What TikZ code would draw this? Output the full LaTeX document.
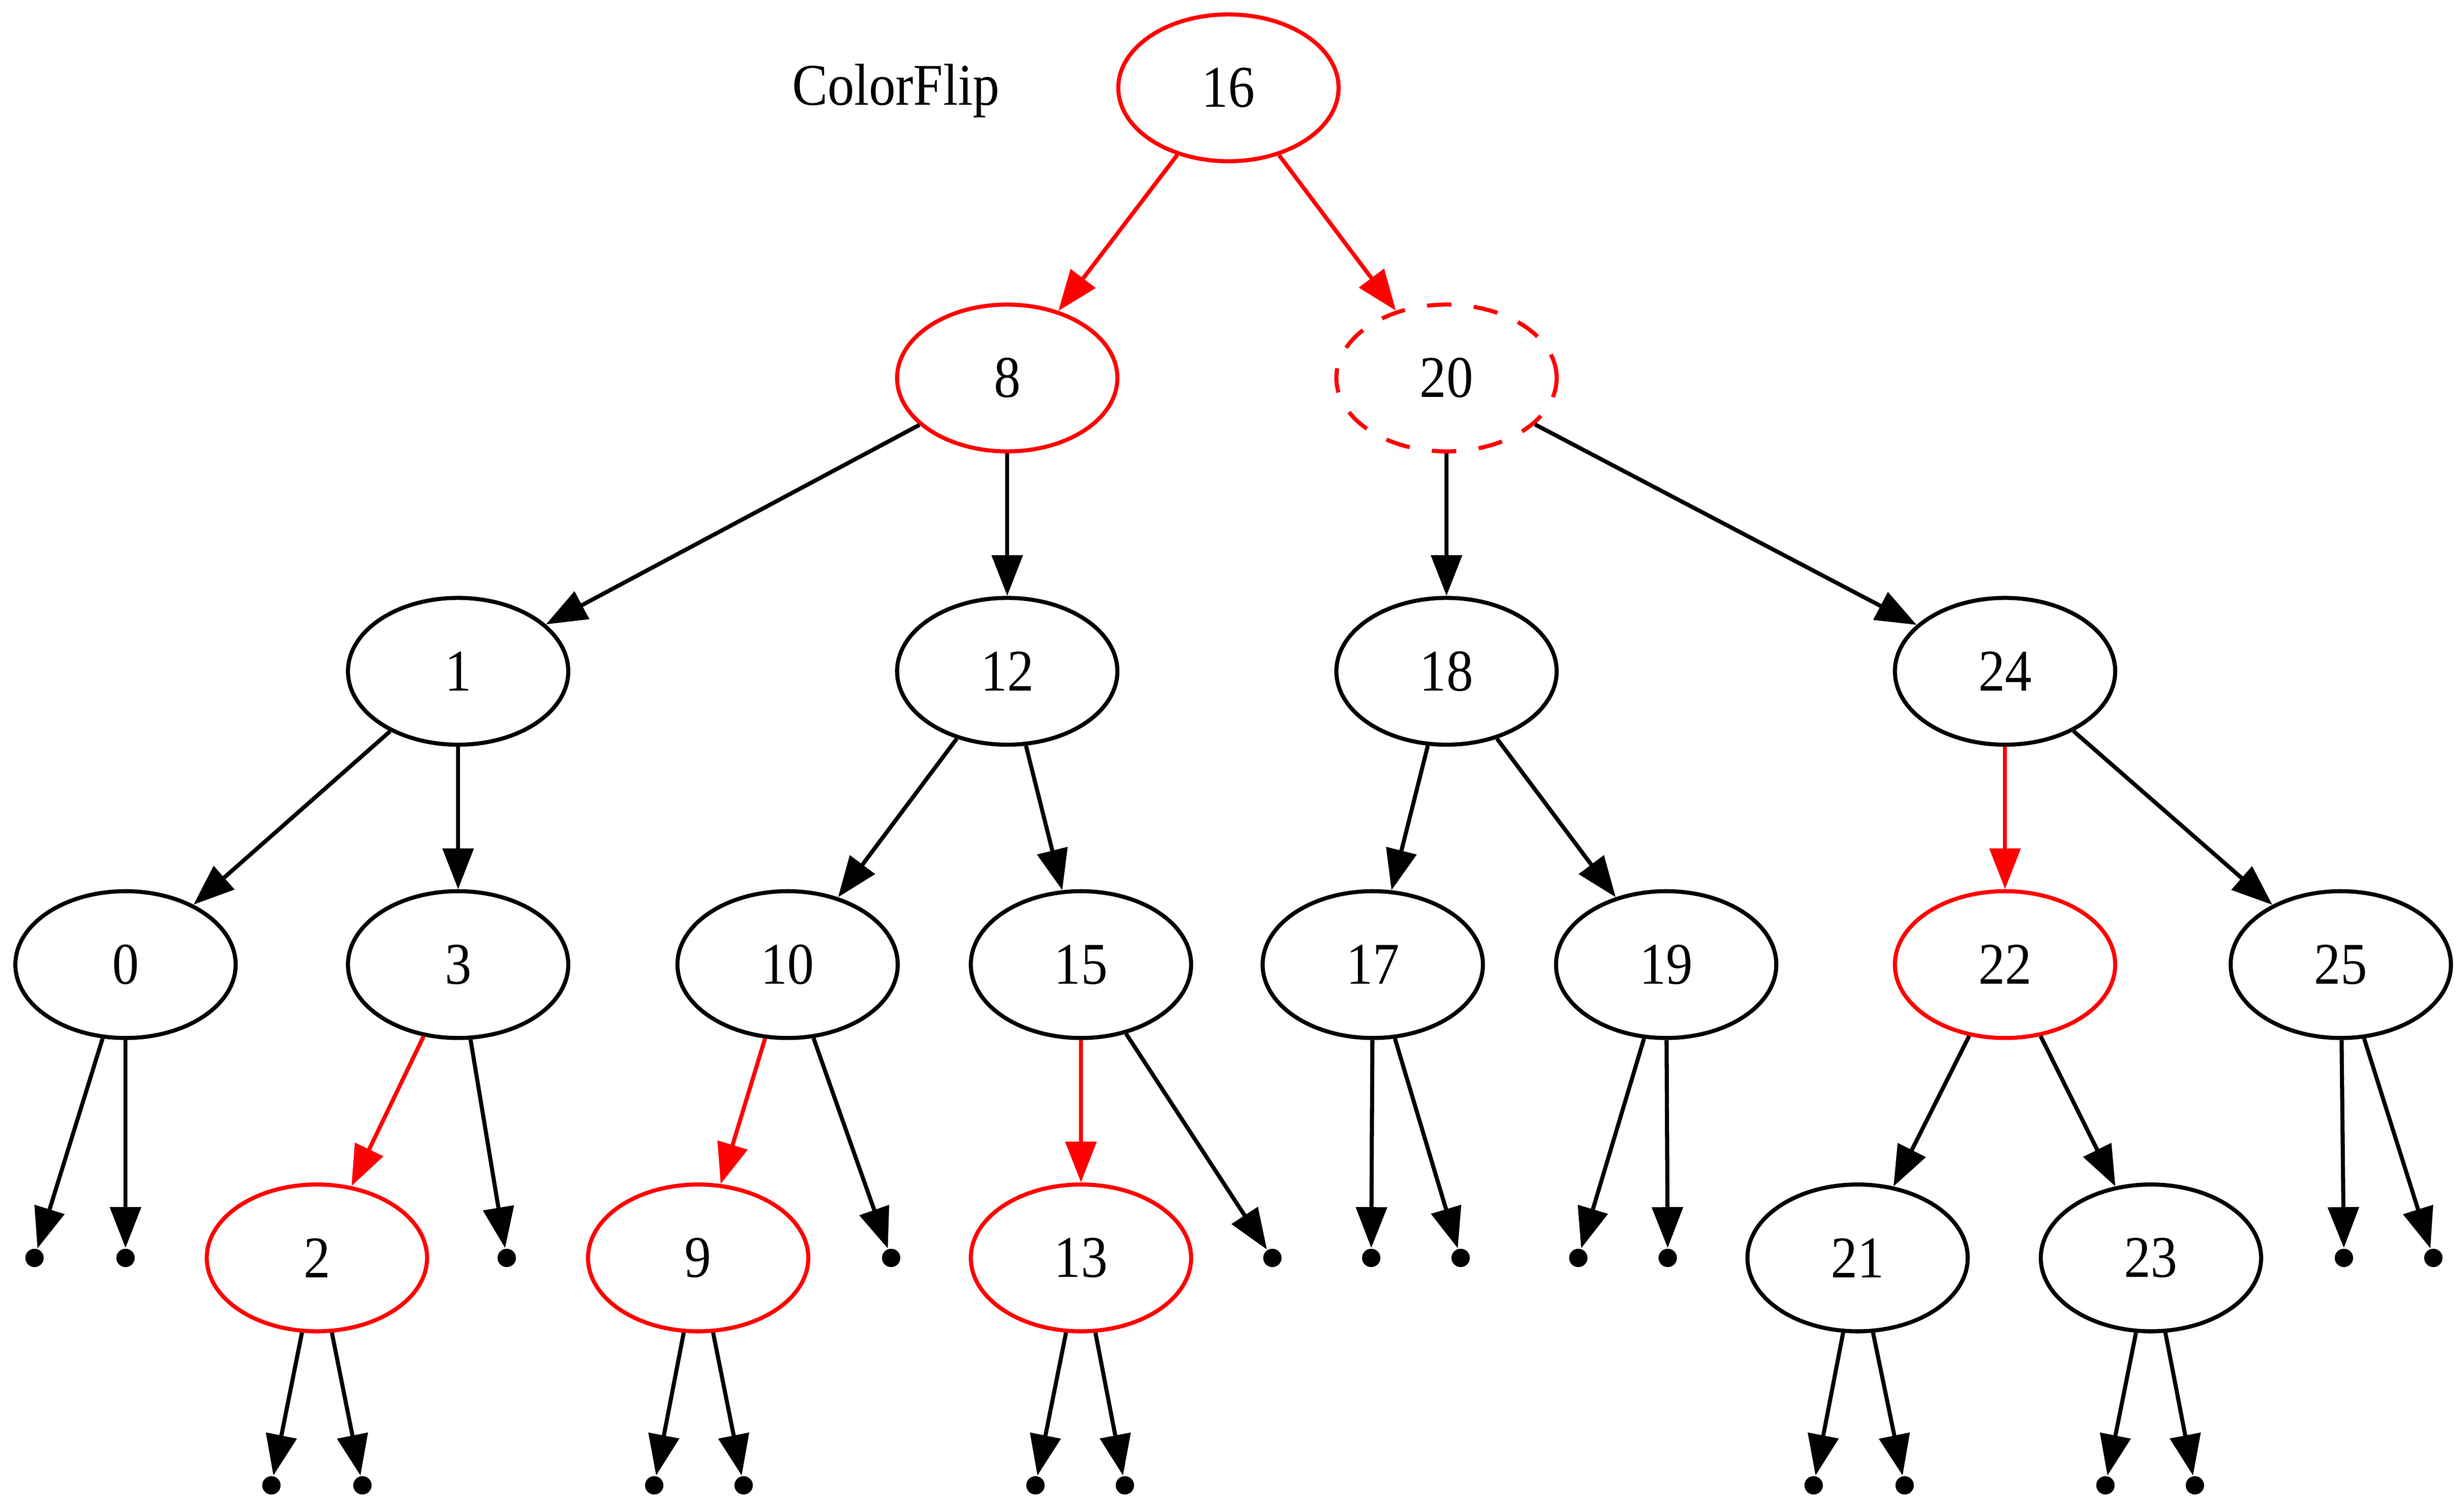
\documentclass[tikz,border=0pt]{standalone}
\usepackage{fontspec}
\setmainfont{Liberation Serif}[FakeStretch=0.9]
\usetikzlibrary{shapes.geometric,arrows.meta}
\begin{document}
\begin{tikzpicture}[x=0.38462pt,y=-0.38462pt,
  font=\fontsize{14.5pt}{16pt}\selectfont,
  nd/.style={ellipse,draw=black,line width=1pt,minimum width=54pt,minimum height=36pt,inner sep=0pt},
  rn/.style={nd,draw=red},
  dn/.style={nd,draw=red,dash pattern=on 6pt off 5.5pt},
  dot/.style={circle,fill=black,draw=none,minimum size=4.5pt,inner sep=0pt},
  ed/.style={line width=1pt,-{Triangle[length=10pt,width=7.5pt]}},
  red ed/.style={ed,draw=red,fill=red}]
\useasboundingbox (0,0) rectangle (1568,964);
\node (cf) at (571,58) {ColorFlip};
\node[rn] (n16) at (783,56) {16};
\node[rn] (n8) at (642,241) {8};
\node[dn] (n20) at (922,241) {20};
\node[nd] (n1) at (292,428) {1};
\node[nd] (n12) at (642,428) {12};
\node[nd] (n18) at (922,428) {18};
\node[nd] (n24) at (1278,428) {24};
\node[nd] (n0) at (80,615) {0};
\node[nd] (n3) at (292,615) {3};
\node[nd] (n10) at (502,615) {10};
\node[nd] (n15) at (689,615) {15};
\node[nd] (n17) at (875,615) {17};
\node[nd] (n19) at (1062,615) {19};
\node[rn] (n22) at (1278,615) {22};
\node[nd] (n25) at (1492,615) {25};
\node[rn] (n2) at (202,802) {2};
\node[rn] (n9) at (445,802) {9};
\node[rn] (n13) at (689,802) {13};
\node[nd] (n21) at (1184,802) {21};
\node[nd] (n23) at (1371,802) {23};
% level-5 dots
\node[dot] (p0a) at (22,802) {};
\node[dot] (p0b) at (80,802) {};
\node[dot] (p3) at (323,802) {};
\node[dot] (p10) at (568,802) {};
\node[dot] (p15) at (811,802) {};
\node[dot] (p17a) at (874,802) {};
\node[dot] (p17b) at (931,802) {};
\node[dot] (p19a) at (1006,802) {};
\node[dot] (p19b) at (1063,802) {};
\node[dot] (p25a) at (1494,802) {};
\node[dot] (p25b) at (1551,802) {};
% level-6 dots
\node[dot] (p2a) at (173,947) {};
\node[dot] (p2b) at (231,947) {};
\node[dot] (p9a) at (417,947) {};
\node[dot] (p9b) at (474,947) {};
\node[dot] (p13a) at (660,947) {};
\node[dot] (p13b) at (717,947) {};
\node[dot] (p21a) at (1156,947) {};
\node[dot] (p21b) at (1214,947) {};
\node[dot] (p23a) at (1342,947) {};
\node[dot] (p23b) at (1399,947) {};
% edges
\draw[red ed] (n16) -- (n8);
\draw[red ed] (n16) -- (n20);
\draw[ed] (n8) -- (n1);
\draw[ed] (n8) -- (n12);
\draw[ed] (n20) -- (n18);
\draw[ed] (n20) -- (n24);
\draw[ed] (n1) -- (n0);
\draw[ed] (n1) -- (n3);
\draw[ed] (n12) -- (n10);
\draw[ed] (n12) -- (n15);
\draw[ed] (n18) -- (n17);
\draw[ed] (n18) -- (n19);
\draw[red ed] (n24) -- (n22);
\draw[ed] (n24) -- (n25);
\draw[ed] (n0) -- (p0a);
\draw[ed] (n0) -- (p0b);
\draw[red ed] (n3) -- (n2);
\draw[ed] (n3) -- (p3);
\draw[red ed] (n10) -- (n9);
\draw[ed] (n10) -- (p10);
\draw[red ed] (n15) -- (n13);
\draw[ed] (n15) -- (p15);
\draw[ed] (n17) -- (p17a);
\draw[ed] (n17) -- (p17b);
\draw[ed] (n19) -- (p19a);
\draw[ed] (n19) -- (p19b);
\draw[ed] (n22) -- (n21);
\draw[ed] (n22) -- (n23);
\draw[ed] (n25) -- (p25a);
\draw[ed] (n25) -- (p25b);
\draw[ed] (n2) -- (p2a);
\draw[ed] (n2) -- (p2b);
\draw[ed] (n9) -- (p9a);
\draw[ed] (n9) -- (p9b);
\draw[ed] (n13) -- (p13a);
\draw[ed] (n13) -- (p13b);
\draw[ed] (n21) -- (p21a);
\draw[ed] (n21) -- (p21b);
\draw[ed] (n23) -- (p23a);
\draw[ed] (n23) -- (p23b);
\end{tikzpicture}
\end{document}
